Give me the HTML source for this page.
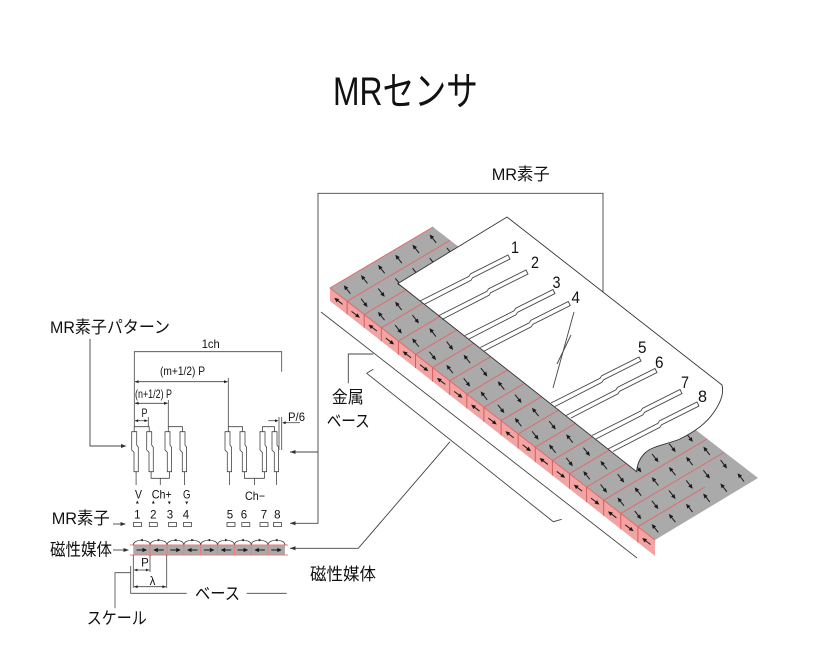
<!DOCTYPE html>
<html>
<head>
<meta charset="utf-8">
<style>
html,body{margin:0;padding:0;background:#fff}
svg{display:block}
text{font-family:"Liberation Sans","Noto Sans CJK JP",sans-serif;fill:#111}
</style>
</head>
<body>
<svg xmlns="http://www.w3.org/2000/svg" width="833" height="647" viewBox="0 0 833 647">
<defs>
  <g id="a"><line x1="0" y1="5.2" x2="0" y2="-1.4" stroke="#1a1a1a" stroke-width="1"/><polygon points="0,-5.4 -2.1,-0.8 2.1,-0.8" fill="#1a1a1a"/></g>
  <g id="ru">
    <use href="#a" transform="translate(8.58,-5.08) rotate(-38)"/>
    <use href="#a" transform="translate(25.75,-15.25) rotate(-38)"/>
    <use href="#a" transform="translate(42.92,-25.42) rotate(-38)"/>
    <use href="#a" transform="translate(60.08,-35.58) rotate(-38)"/>
    <use href="#a" transform="translate(77.25,-45.75) rotate(-38)"/>
    <use href="#a" transform="translate(94.42,-55.92) rotate(-38)"/>
  </g>
  <g id="rd">
    <use href="#a" transform="translate(8.58,-5.08) rotate(142)"/>
    <use href="#a" transform="translate(25.75,-15.25) rotate(142)"/>
    <use href="#a" transform="translate(42.92,-25.42) rotate(142)"/>
    <use href="#a" transform="translate(60.08,-35.58) rotate(142)"/>
    <use href="#a" transform="translate(77.25,-45.75) rotate(142)"/>
    <use href="#a" transform="translate(94.42,-55.92) rotate(142)"/>
  </g>
</defs>
<rect width="833" height="647" fill="#fff"/>

<!-- Title -->
<text x="333" y="105" font-size="40" textLength="145" lengthAdjust="spacingAndGlyphs">MRセンサ</text>

<!-- ===== Right: scale strip ===== -->
<g stroke="#444" stroke-width="0.9" fill="none">
  <line x1="321" y1="312" x2="637" y2="558"/>
  <polyline points="373.3,369.3 366.7,373.3 553.3,521.7 561.7,519.3"/>
  <polyline points="348.3,383.3 348.3,354 373.3,354"/>
  <polyline points="290,548.3 358.3,548.3 450,441.7"/>
  <polyline points="603,292 603,193.3 318,193.3 318,523.3 290,523.3"/>
  <line x1="318" y1="452" x2="290" y2="452"/>
</g>
<polygon points="290,548.3 295.5,546.3 295.5,550.3" fill="#333"/>
<polygon points="290,523.3 295.5,521.3 295.5,525.3" fill="#333"/>
<polygon points="290,452 295.5,450 295.5,454" fill="#333"/>

<polygon points="330,288 433,227 758,478 655,540" fill="#aaaaaa"/>
<polygon points="330,288 655,540 655,556 330,301" fill="#f4a3a3"/>

<g stroke="#e26a6a" stroke-width="1">
  <line x1="330" y1="288" x2="433" y2="227"/>
  <line x1="330" y1="288" x2="655" y2="540"/>
  <line x1="347.1" y1="301.3" x2="450.1" y2="240.3"/>
  <line x1="364.2" y1="314.5" x2="467.2" y2="253.5"/>
  <line x1="381.3" y1="327.8" x2="484.3" y2="266.8"/>
  <line x1="398.4" y1="341.1" x2="501.4" y2="280.1"/>
  <line x1="415.5" y1="354.3" x2="518.5" y2="293.3"/>
  <line x1="432.6" y1="367.6" x2="535.6" y2="306.6"/>
  <line x1="449.7" y1="380.8" x2="552.7" y2="319.8"/>
  <line x1="466.8" y1="394.1" x2="569.8" y2="333.1"/>
  <line x1="483.9" y1="407.4" x2="586.9" y2="346.4"/>
  <line x1="501.1" y1="420.6" x2="604.1" y2="359.6"/>
  <line x1="518.2" y1="433.9" x2="621.2" y2="372.9"/>
  <line x1="535.3" y1="447.2" x2="638.3" y2="386.2"/>
  <line x1="552.4" y1="460.4" x2="655.4" y2="399.4"/>
  <line x1="569.5" y1="473.7" x2="672.5" y2="412.7"/>
  <line x1="586.6" y1="487.0" x2="689.6" y2="426.0"/>
  <line x1="603.7" y1="500.2" x2="706.7" y2="439.2"/>
  <line x1="620.8" y1="513.5" x2="723.8" y2="452.5"/>
  <line x1="637.9" y1="526.7" x2="704.9" y2="487.0"/>
</g>
<g stroke="#d85c5c" stroke-width="1">
  <line x1="347.1" y1="301.3" x2="347.1" y2="314.4"/>
  <line x1="364.2" y1="314.5" x2="364.2" y2="327.9"/>
  <line x1="381.3" y1="327.8" x2="381.3" y2="341.3"/>
  <line x1="398.4" y1="341.1" x2="398.4" y2="354.7"/>
  <line x1="415.5" y1="354.3" x2="415.5" y2="368.1"/>
  <line x1="432.6" y1="367.6" x2="432.6" y2="381.5"/>
  <line x1="449.7" y1="380.8" x2="449.7" y2="395.0"/>
  <line x1="466.8" y1="394.1" x2="466.8" y2="408.4"/>
  <line x1="483.9" y1="407.4" x2="483.9" y2="421.8"/>
  <line x1="501.1" y1="420.6" x2="501.1" y2="435.2"/>
  <line x1="518.2" y1="433.9" x2="518.2" y2="448.6"/>
  <line x1="535.3" y1="447.2" x2="535.3" y2="462.1"/>
  <line x1="552.4" y1="460.4" x2="552.4" y2="475.5"/>
  <line x1="569.5" y1="473.7" x2="569.5" y2="488.9"/>
  <line x1="586.6" y1="487.0" x2="586.6" y2="502.3"/>
  <line x1="603.7" y1="500.2" x2="603.7" y2="515.7"/>
  <line x1="620.8" y1="513.5" x2="620.8" y2="529.2"/>
  <line x1="637.9" y1="526.7" x2="637.9" y2="542.6"/>
</g>

<use href="#ru" x="338.55" y="294.63"/>
<use href="#rd" x="355.66" y="307.89"/>
<use href="#ru" x="372.76" y="321.16"/>
<use href="#rd" x="389.87" y="334.42"/>
<use href="#ru" x="406.97" y="347.68"/>
<use href="#rd" x="424.08" y="360.95"/>
<use href="#ru" x="441.18" y="374.21"/>
<use href="#rd" x="458.29" y="387.47"/>
<use href="#ru" x="475.39" y="400.74"/>
<use href="#rd" x="492.50" y="414.00"/>
<use href="#ru" x="509.60" y="427.26"/>
<use href="#rd" x="526.71" y="440.53"/>
<use href="#ru" x="543.82" y="453.79"/>
<use href="#rd" x="560.92" y="467.05"/>
<use href="#ru" x="578.03" y="480.32"/>
<use href="#rd" x="595.13" y="493.58"/>
<use href="#ru" x="612.24" y="506.84"/>
<use href="#rd" x="629.34" y="520.11"/>
<use href="#ru" x="646.45" y="533.37"/>

<use href="#a" transform="translate(338.55,301.17) rotate(-52.4)"/>
<use href="#a" transform="translate(355.66,314.51) rotate(127.6)"/>
<use href="#a" transform="translate(372.76,327.86) rotate(-52.4)"/>
<use href="#a" transform="translate(389.87,341.20) rotate(127.6)"/>
<use href="#a" transform="translate(406.97,354.54) rotate(-52.4)"/>
<use href="#a" transform="translate(424.08,367.88) rotate(127.6)"/>
<use href="#a" transform="translate(441.18,381.22) rotate(-52.4)"/>
<use href="#a" transform="translate(458.29,394.56) rotate(127.6)"/>
<use href="#a" transform="translate(475.39,407.91) rotate(-52.4)"/>
<use href="#a" transform="translate(492.50,421.25) rotate(127.6)"/>
<use href="#a" transform="translate(509.60,434.59) rotate(-52.4)"/>
<use href="#a" transform="translate(526.71,447.94) rotate(127.6)"/>
<use href="#a" transform="translate(543.82,461.28) rotate(-52.4)"/>
<use href="#a" transform="translate(560.92,474.62) rotate(127.6)"/>
<use href="#a" transform="translate(578.03,487.96) rotate(-52.4)"/>
<use href="#a" transform="translate(595.13,501.30) rotate(127.6)"/>
<use href="#a" transform="translate(612.24,514.64) rotate(-52.4)"/>
<use href="#a" transform="translate(629.34,527.99) rotate(127.6)"/>
<use href="#a" transform="translate(646.45,541.33) rotate(-52.4)"/>

<path d="M398,283.5 L507,217 L722,385 C724,393 721,402 714,412 C706,424 694,432 680,439 C668,444 652,446 645,453 C640,458 637,465 636.7,471.7 Z" fill="#fff" stroke="#333" stroke-width="0.9"/>

<g fill="none" stroke="#444" stroke-width="0.9">
  <polyline points="420,301 469,276.3 470.5,273.8 508,255 510,259 472.5,277.8 471,280.3 424,304.5"/>
  <polyline points="438,316 487,291.3 488.5,288.8 526,270 528,274 490.5,292.8 489,295.3 442,319.5"/>
  <polyline points="465,335.5 514,310.8 515.5,308.3 553,289.5 555,293.5 517.5,312.3 516,314.8 469,339"/>
  <polyline points="480.3,347.5 529.3,322.8 530.8,320.3 568.3,301.5 570.3,305.5 532.8,324.3 531.3,326.8 484.3,351"/>
  <polyline points="551,403 600,378.3 601.5,375.8 639,357 641,361 603.5,379.8 602,382.3 555,406.5"/>
  <polyline points="566,415.5 616,389.8 617.5,387.3 655,368.5 657,372.5 619.5,391.3 618,393.8 571,418"/>
  <polyline points="592,435.5 641,410.8 642.5,408.3 680,389.5 682,393.5 644.5,412.3 643,414.8 596,439"/>
  <polyline points="608,449 658,423.3 659.5,420.8 697,402 699,406 661.5,424.8 660,427.3 613,451.5"/>
  <line x1="574" y1="312" x2="553" y2="388"/>
  <line x1="571" y1="335" x2="557" y2="364"/>
</g>

<g font-size="17">
  <text x="511" y="253" textLength="8" lengthAdjust="spacingAndGlyphs">1</text>
  <text x="531" y="268" textLength="8" lengthAdjust="spacingAndGlyphs">2</text>
  <text x="552.5" y="288" textLength="8" lengthAdjust="spacingAndGlyphs">3</text>
  <text x="571.5" y="303" textLength="8.5" lengthAdjust="spacingAndGlyphs">4</text>
  <text x="638" y="353" textLength="8.5" lengthAdjust="spacingAndGlyphs">5</text>
  <text x="655" y="368" textLength="8.5" lengthAdjust="spacingAndGlyphs">6</text>
  <text x="681" y="388" textLength="8" lengthAdjust="spacingAndGlyphs">7</text>
  <text x="698" y="402" textLength="9" lengthAdjust="spacingAndGlyphs">8</text>
</g>

<text x="491.7" y="180" font-size="17" textLength="58" lengthAdjust="spacingAndGlyphs">MR素子</text>
<text x="331.7" y="403" font-size="17" textLength="32" lengthAdjust="spacingAndGlyphs">金属</text>
<text x="326.7" y="427" font-size="17" textLength="43" lengthAdjust="spacingAndGlyphs">ベース</text>
<text x="310" y="580" font-size="17" textLength="66" lengthAdjust="spacingAndGlyphs">磁性媒体</text>

<!-- ===== Left: MR pattern ===== -->
<text x="50" y="333" font-size="17" textLength="120" lengthAdjust="spacingAndGlyphs">MR素子パターン</text>
<polyline points="90,339 90,446 121,446" fill="none" stroke="#444" stroke-width="0.9"/>
<polygon points="126.5,446 121,444 121,448" fill="#333"/>

<g fill="none" stroke="#444" stroke-width="0.8">
  <polyline points="134.3,426.7 134.3,351.7 281.7,351.7 281.7,371.7"/>
  <line x1="228.3" y1="378" x2="228.3" y2="426.7"/>
  <line x1="168.3" y1="400" x2="168.3" y2="426.7"/>
  <line x1="148.3" y1="417" x2="148.3" y2="426.7"/>
  <line x1="279" y1="417" x2="279" y2="450"/>
  <line x1="281.7" y1="417" x2="281.7" y2="450"/>
  <line x1="135" y1="381.7" x2="227.5" y2="381.7"/>
  <line x1="135" y1="403.3" x2="167.5" y2="403.3"/>
  <line x1="135" y1="420.7" x2="147.5" y2="420.7"/>
  <line x1="268.3" y1="420.7" x2="276" y2="420.7"/>
  <line x1="284.5" y1="422.7" x2="300" y2="422.7"/>
  <polygon points="131.7,431.7 136.7,431.7 136.7,445 138.3,447.3 138.3,471.7 134,471.7 134,452.3 131.7,450"/>
  <polygon points="146.7,431.7 151.7,431.7 151.7,445 153.3,447.3 153.3,471.7 149,471.7 149,452.3 146.7,450"/>
  <polygon points="165,431.7 170,431.7 170,445 171.6,447.3 171.6,471.7 167.3,471.7 167.3,452.3 165,450"/>
  <polygon points="180,431.7 185,431.7 185,445 186.6,447.3 186.6,471.7 182.3,471.7 182.3,452.3 180,450"/>
  <polygon points="225,431.7 230,431.7 230,445 231.6,447.3 231.6,471.7 227.3,471.7 227.3,452.3 225,450"/>
  <polygon points="240,431.7 245,431.7 245,445 246.6,447.3 246.6,471.7 242.3,471.7 242.3,452.3 240,450"/>
  <polygon points="260,431.7 265,431.7 265,445 266.6,447.3 266.6,471.7 262.3,471.7 262.3,452.3 260,450"/>
  <polygon points="272,431.7 277,431.7 277,445 278.6,447.3 278.6,471.7 274.3,471.7 274.3,452.3 272,450"/>
  <polyline points="134.2,431.7 134.2,426.7 149.2,426.7 149.2,431.7"/>
  <polyline points="168.3,431.7 168.3,426.7 182.5,426.7 182.5,431.7"/>
  <polyline points="228.3,431.7 228.3,426.7 242.5,426.7 242.5,431.7"/>
  <polyline points="262.5,431.7 262.5,426.7 274.5,426.7 274.5,431.7"/>
  <polyline points="151.1,471.7 151.1,478.3 169.4,478.3 169.4,471.7"/>
  <line x1="160.3" y1="478.3" x2="160.3" y2="485"/>
  <polyline points="244.4,471.7 244.4,478.3 264.4,478.3 264.4,471.7"/>
  <line x1="254.4" y1="478.3" x2="254.4" y2="485"/>
  <line x1="136.1" y1="471.7" x2="136.1" y2="485"/>
  <line x1="184.4" y1="471.7" x2="184.4" y2="485"/>
  <line x1="229.4" y1="471.7" x2="229.4" y2="485"/>
  <line x1="276.4" y1="471.7" x2="276.4" y2="485"/>
</g>
<g fill="#222">
  <polygon points="134.8,381.7 138.6,380.2 138.6,383.2"/>
  <polygon points="227.8,381.7 224,380.2 224,383.2"/>
  <polygon points="134.8,403.3 138.6,401.8 138.6,404.8"/>
  <polygon points="167.8,403.3 164,401.8 164,404.8"/>
  <polygon points="134.8,420.7 138.2,419.3 138.2,422.1"/>
  <polygon points="147.8,420.7 144.4,419.3 144.4,422.1"/>
  <polygon points="278.5,420.7 275,419.2 275,422.2"/>
  <polygon points="282.2,422.7 285.7,421.2 285.7,424.2"/>
</g>
<g font-size="12">
  <text x="201.7" y="348" textLength="18" lengthAdjust="spacingAndGlyphs">1ch</text>
  <text x="160" y="375" textLength="45" lengthAdjust="spacingAndGlyphs">(m+1/2) P</text>
  <text x="135" y="398" textLength="37" lengthAdjust="spacingAndGlyphs">(n+1/2) P</text>
  <text x="141.5" y="417" textLength="6" lengthAdjust="spacingAndGlyphs">P</text>
  <text x="288" y="421" textLength="17" lengthAdjust="spacingAndGlyphs">P/6</text>
  <text x="135" y="498.5" textLength="7" lengthAdjust="spacingAndGlyphs">V</text>
  <text x="151.7" y="498.5" textLength="20" lengthAdjust="spacingAndGlyphs">Ch+</text>
  <text x="183" y="498.5" textLength="7.5" lengthAdjust="spacingAndGlyphs">G</text>
  <text x="245" y="500" textLength="20" lengthAdjust="spacingAndGlyphs">Ch−</text>
</g>
<g fill="#222">
  <polygon points="137.3,500.5 135.8,503.5 138.8,503.5"/>
  <polygon points="153.3,500.5 151.8,503.5 154.8,503.5"/>
  <polygon points="169.3,504.5 167.8,501.5 170.8,501.5"/>
  <polygon points="186.7,504.5 185.2,501.5 188.2,501.5"/>
</g>
<g font-size="11.5" text-anchor="middle">
  <text x="137.3" y="518.5">1</text>
  <text x="153.3" y="518.5">2</text>
  <text x="170" y="518.5">3</text>
  <text x="186" y="518.5">4</text>
  <text x="230" y="518.5">5</text>
  <text x="244" y="518.5">6</text>
  <text x="264" y="518.5">7</text>
  <text x="277.3" y="518.5">8</text>
</g>
<g fill="none" stroke="#444" stroke-width="0.8">
  <rect x="133.5" y="522.5" width="8" height="4"/>
  <rect x="149.3" y="522.5" width="8" height="4"/>
  <rect x="168.5" y="522.5" width="8" height="4"/>
  <rect x="183.5" y="522.5" width="8" height="4"/>
  <rect x="227" y="522.5" width="8" height="4"/>
  <rect x="241.8" y="522.5" width="8" height="4"/>
  <rect x="260" y="522.5" width="8" height="4"/>
  <rect x="273.5" y="522.5" width="8" height="4"/>
</g>

<text x="51.7" y="524" font-size="17" textLength="58" lengthAdjust="spacingAndGlyphs">MR素子</text>
<text x="50" y="555.5" font-size="17" textLength="62" lengthAdjust="spacingAndGlyphs">磁性媒体</text>
<g stroke="#444" stroke-width="0.9">
  <line x1="113" y1="524" x2="121" y2="524"/>
  <line x1="113" y1="550" x2="124" y2="550"/>
</g>
<polygon points="126,524 120.5,522 120.5,526" fill="#333"/>
<polygon points="129,550 123.5,548 123.5,552" fill="#333"/>

<rect x="133.3" y="545" width="151.7" height="10" fill="#aaaaaa"/>
<g stroke="#ec7b7b" stroke-width="1">
  <line x1="130" y1="545" x2="288" y2="545"/>
  <line x1="130" y1="555" x2="288" y2="555"/>
  <line x1="150.15" y1="545" x2="150.15" y2="555"/>
  <line x1="167" y1="545" x2="167" y2="555"/>
  <line x1="183.85" y1="545" x2="183.85" y2="555"/>
  <line x1="200.7" y1="545" x2="200.7" y2="555"/>
  <line x1="217.55" y1="545" x2="217.55" y2="555"/>
  <line x1="234.4" y1="545" x2="234.4" y2="555"/>
  <line x1="251.25" y1="545" x2="251.25" y2="555"/>
  <line x1="268.1" y1="545" x2="268.1" y2="555"/>
</g>
<path d="M133.3,545 C133.3,538.5 150.15,538.5 150.15,545 M150.15,545 C150.15,538.5 167,538.5 167,545 M167,545 C167,538.5 183.85,538.5 183.85,545 M183.85,545 C183.85,538.5 200.7,538.5 200.7,545 M200.7,545 C200.7,538.5 217.55,538.5 217.55,545 M217.55,545 C217.55,538.5 234.4,538.5 234.4,545 M234.4,545 C234.4,538.5 251.25,538.5 251.25,545 M251.25,545 C251.25,538.5 268.1,538.5 268.1,545 M268.1,545 C268.1,538.5 284.95,538.5 284.95,545" fill="none" stroke="#444" stroke-width="0.8"/>
<g fill="#222">
  <polygon points="139.8,540.1 142.8,538.8 142.8,541.4"/>
  <polygon points="160.6,540.1 157.6,538.8 157.6,541.4"/>
  <polygon points="173.5,540.1 176.5,538.8 176.5,541.4"/>
  <polygon points="194.3,540.1 191.3,538.8 191.3,541.4"/>
  <polygon points="207.2,540.1 210.2,538.8 210.2,541.4"/>
  <polygon points="228,540.1 225,538.8 225,541.4"/>
  <polygon points="240.9,540.1 243.9,538.8 243.9,541.4"/>
  <polygon points="261.7,540.1 258.7,538.8 258.7,541.4"/>
  <polygon points="274.6,540.1 277.6,538.8 277.6,541.4"/>
</g>
<use href="#a" transform="translate(141.7,550) rotate(90)"/>
<use href="#a" transform="translate(158.6,550) rotate(-90)"/>
<use href="#a" transform="translate(175.4,550) rotate(90)"/>
<use href="#a" transform="translate(192.3,550) rotate(-90)"/>
<use href="#a" transform="translate(209.1,550) rotate(90)"/>
<use href="#a" transform="translate(226.0,550) rotate(-90)"/>
<use href="#a" transform="translate(242.8,550) rotate(90)"/>
<use href="#a" transform="translate(259.7,550) rotate(-90)"/>
<use href="#a" transform="translate(276.5,550) rotate(90)"/>

<g fill="none" stroke="#444" stroke-width="0.8">
  <line x1="133.3" y1="555" x2="133.3" y2="588"/>
  <line x1="150" y1="555" x2="150" y2="572"/>
  <line x1="166.7" y1="555" x2="166.7" y2="588"/>
  <line x1="134" y1="570" x2="149.3" y2="570"/>
  <line x1="134" y1="586.7" x2="166" y2="586.7"/>
  <polyline points="130.7,566 130.7,593.3 186.7,593.3"/>
  <polyline points="115,608.3 115,572.7 130.7,572.7"/>
  <line x1="246.7" y1="593.3" x2="286.7" y2="593.3"/>
</g>
<g fill="#222">
  <polygon points="134,570 137.4,568.6 137.4,571.4"/>
  <polygon points="149.3,570 145.9,568.6 145.9,571.4"/>
  <polygon points="134,586.7 137.6,585.2 137.6,588.2"/>
  <polygon points="166,586.7 162.4,585.2 162.4,588.2"/>
</g>
<text x="145" y="566.5" font-size="11.5" text-anchor="middle">P</text>
<text x="152.5" y="585" font-size="11.5" text-anchor="middle">λ</text>
<text x="195" y="599.5" font-size="17" textLength="45" lengthAdjust="spacingAndGlyphs">ベース</text>
<text x="86.7" y="624" font-size="17" textLength="60" lengthAdjust="spacingAndGlyphs">スケール</text>
</svg>
</body>
</html>
